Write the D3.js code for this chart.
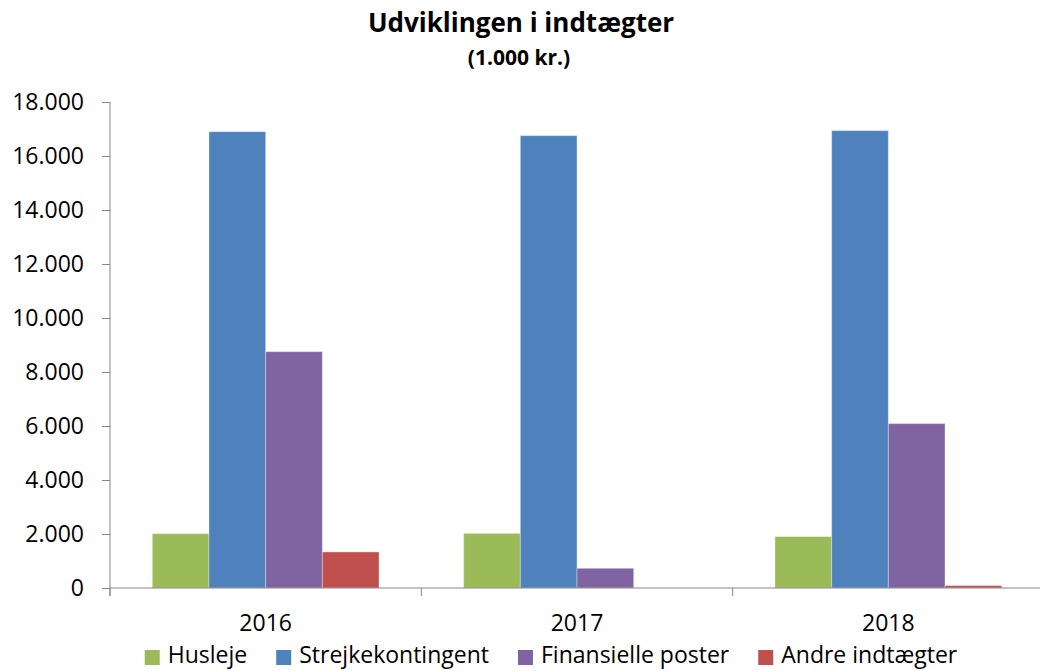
<!DOCTYPE html>
<meta charset="utf-8">
<style>
body { margin: 0; background: #fff; }
text { font-family: "Open Sans", sans-serif; fill: #000; }
.axis path, .axis line { stroke: #868686; }
</style>
<svg width="1040" height="671"></svg>
<script src="https://cdn.jsdelivr.net/npm/d3@7"></script>
<script>
var years = ["2016", "2017", "2018"];
var series = ["Husleje", "Strejkekontingent", "Finansielle poster", "Andre indtægter"];
var colors = ["#9bbb59", "#4f81bd", "#8064a2", "#c0504d"];
var husleje = [2015, 2025, 1905];
var strejke = [16900, 16755, 16940];
var finans = [8755, 730, 6090];
var andre = [1335, 0, 90];
var yTicks = [0, 2000, 4000, 6000, 8000, 10000, 12000, 14000, 16000, 18000];

var values = [husleje, strejke, finans, andre];

var svg = d3.select("svg"),
    margin = {top: 102, left: 110, bottom: 83},
    plotRight = 1044,
    height = 671 - margin.bottom;

var x0 = d3.scaleBand().domain(years).range([margin.left, plotRight]);
var inner = 42.3;
var x1 = d3.scaleBand().domain(series).range([inner, x0.bandwidth() - inner]);
var y = d3.scaleLinear().domain([0, 18000]).range([height, margin.top]);

var fmt = function(d) { return d3.format(",")(d).replace(/,/g, "."); };

// title
svg.append("text")
    .attr("x", 521).attr("y", 32)
    .attr("text-anchor", "middle")
    .style("font-size", "26px").style("font-weight", "bold")
    .text("Udviklingen i indtægter");
svg.append("text")
    .attr("x", 519).attr("y", 65)
    .attr("text-anchor", "middle")
    .style("font-size", "21px").style("font-weight", "bold")
    .text("(1.000 kr.)");

// bars
var g = svg.append("g");
years.forEach(function(yr, i) {
  series.forEach(function(s, j) {
    var v = values[j][i];
    if (v <= 0) return;
    g.append("rect")
        .attr("x", x0(yr) + x1(s))
        .attr("y", y(v))
        .attr("width", x1.bandwidth())
        .attr("height", height - y(v))
        .attr("fill", colors[j])
        .attr("stroke", "rgba(255,255,255,0.35)")
        .attr("stroke-width", 1);
  });
});

// y axis
var yAxis = svg.append("g")
    .attr("class", "axis")
    .attr("transform", "translate(" + margin.left + ",0)")
    .call(d3.axisLeft(y).tickValues(yTicks).tickFormat(fmt).tickSize(8).tickSizeOuter(0).tickPadding(18));
yAxis.select(".domain").attr("d", "M0," + margin.top + "V" + (height + 8));
yAxis.selectAll("text").style("font-size", "23px").style("font-family", "'Open Sans', sans-serif").attr("fill", "#000");

// x axis
var xAxis = svg.append("g")
    .attr("class", "axis")
    .attr("transform", "translate(0," + height + ")")
    .call(d3.axisBottom(x0).tickSize(0).tickPadding(27));
xAxis.select(".domain").attr("d", "M" + margin.left + ",0H" + plotRight);
xAxis.selectAll("text").style("font-size", "23px").style("font-family", "'Open Sans', sans-serif").attr("fill", "#000");
var bounds = years.map(function(d) { return x0(d); }).concat([plotRight]);
xAxis.selectAll(".sep").data(bounds).enter().append("line")
    .attr("class", "sep")
    .attr("x1", function(d) { return d; }).attr("x2", function(d) { return d; })
    .attr("y1", 0).attr("y2", 8)
    .attr("stroke", "#868686");

// legend
var legend = svg.append("g");
var lx = 0, gap = 29;
series.forEach(function(s, j) {
  var it = legend.append("g");
  it.append("rect").attr("x", 0).attr("y", -13).attr("width", 15).attr("height", 15).attr("fill", colors[j]);
  var t = it.append("text").attr("x", 23).attr("y", 0).style("font-size", "23px").text(s);
  var w = 23 + t.node().getComputedTextLength();
  it.attr("transform", "translate(" + lx + ",663)");
  lx += w + gap;
});
var total = lx - gap;
legend.attr("transform", "translate(" + (551 - total / 2) + ",0)");
</script>
